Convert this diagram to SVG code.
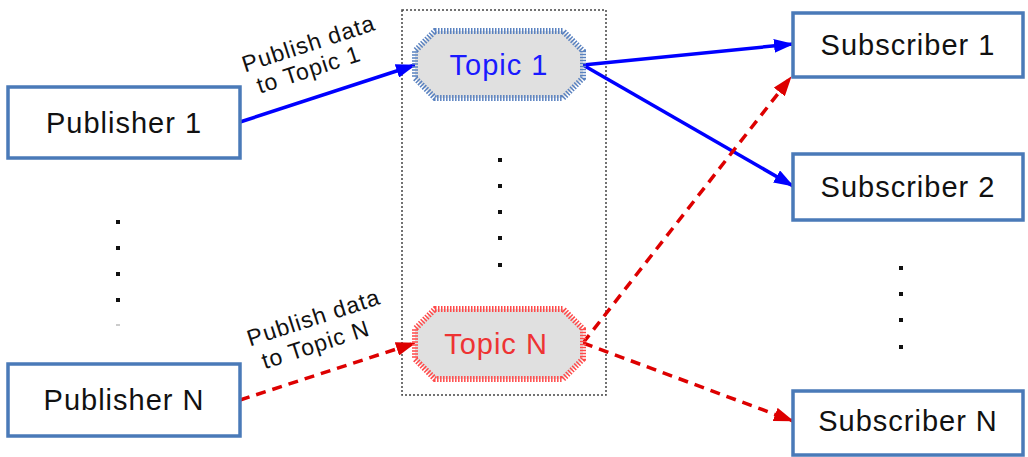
<svg xmlns="http://www.w3.org/2000/svg" width="1028" height="457" viewBox="0 0 1028 457">
<defs>
<marker id="ab" viewBox="0 0 20 14" refX="19" refY="7" markerWidth="20" markerHeight="14" markerUnits="userSpaceOnUse" orient="auto"><path d="M0,0 L20,7 L0,14 Z" fill="#0000ff"/></marker>
<marker id="ar" viewBox="0 0 20 14" refX="19" refY="7" markerWidth="20" markerHeight="14" markerUnits="userSpaceOnUse" orient="auto"><path d="M0,0 L20,7 L0,14 Z" fill="#dd0000"/></marker>
</defs>
<style>
.box{fill:#fff;stroke:#4a7ab8;stroke-width:3.5}
.lbl{font-family:"Liberation Sans",Arial,sans-serif;font-size:29px;letter-spacing:1px;fill:#111;text-anchor:middle}
.elbl{font-family:"Liberation Sans",Arial,sans-serif;font-size:23px;letter-spacing:1px;fill:#111;text-anchor:middle}
.dot{fill:#111}
.blue{stroke:#0000ff;stroke-width:3.5;fill:none}
.red{stroke:#dd0000;stroke-width:3.5;fill:none;stroke-dasharray:10,7}
</style>
<rect x="0" y="0" width="1028" height="457" fill="#fff"/>
<rect id="container" x="402" y="10" width="204" height="385" fill="none" stroke="#444" stroke-width="1.5" stroke-dasharray="2,2"/>
<g id="connectors">
<line class="blue" x1="240" y1="122" x2="415" y2="65" marker-end="url(#ab)"/>
<line class="blue" x1="583" y1="65" x2="793" y2="44" marker-end="url(#ab)"/>
<line class="blue" x1="583" y1="65" x2="793" y2="186" marker-end="url(#ab)"/>
<line class="red" x1="240" y1="400" x2="415" y2="343" marker-end="url(#ar)"/>
<line class="red" x1="583" y1="343" x2="791" y2="77" marker-end="url(#ar)"/>
<line class="red" x1="583" y1="343" x2="793" y2="421" marker-end="url(#ar)"/>
<text class="elbl" transform="translate(311,51) rotate(-18)">Publish data</text>
<text class="elbl" transform="translate(311,77) rotate(-18)">to Topic 1</text>
<text class="elbl" transform="translate(316,325) rotate(-18)">Publish data</text>
<text class="elbl" transform="translate(318,352) rotate(-18)">to Topic N</text>
</g>
<g id="publisher1"><rect class="box" x="8" y="87" width="232" height="71"/><text class="lbl" x="124" y="133">Publisher 1</text></g>
<g id="publisherN"><rect class="box" x="8" y="364" width="232" height="72"/><text class="lbl" x="124" y="410">Publisher N</text></g>
<g id="topic1"><polygon points="435,31 563,31 583,51 583,78 563,98 435,98 415,78 415,51" fill="#e0e0e0" stroke="#5a82c0" stroke-width="6" stroke-dasharray="1.5,1.5"/><text class="lbl" x="499" y="75" style="fill:#1a1aff">Topic 1</text></g>
<g id="topicN"><polygon points="435,309 563,309 583,329 583,359 563,379 435,379 415,359 415,329" fill="#e0e0e0" stroke="#ff4a4a" stroke-width="6" stroke-dasharray="1.5,1.5"/><text class="lbl" x="496" y="354" style="fill:#ee3333">Topic N</text></g>
<g id="subscriber1"><rect class="box" x="793" y="13" width="230" height="64"/><text class="lbl" x="908" y="55">Subscriber 1</text></g>
<g id="subscriber2"><rect class="box" x="793" y="154" width="230" height="66"/><text class="lbl" x="908" y="197">Subscriber 2</text></g>
<g id="subscriberN"><rect class="box" x="793" y="391" width="230" height="64"/><text class="lbl" x="908" y="431">Subscriber N</text></g>
<g id="dots">
<rect class="dot" x="116" y="220" width="4" height="4"/>
<rect class="dot" x="116" y="246" width="4" height="4"/>
<rect class="dot" x="116" y="272" width="4" height="4"/>
<rect class="dot" x="116" y="298" width="4" height="4"/>
<rect x="116" y="324" width="4" height="2" fill="#ccc"/>
<rect class="dot" x="498" y="158" width="4" height="4"/>
<rect class="dot" x="498" y="184" width="4" height="4"/>
<rect class="dot" x="498" y="210" width="4" height="4"/>
<rect class="dot" x="498" y="236" width="4" height="4"/>
<rect class="dot" x="498" y="263" width="4" height="4"/>
<rect class="dot" x="899" y="266" width="4" height="4"/>
<rect class="dot" x="899" y="292" width="4" height="4"/>
<rect class="dot" x="899" y="318" width="4" height="4"/>
<rect class="dot" x="899" y="345" width="4" height="4"/>
</g>
</svg>
